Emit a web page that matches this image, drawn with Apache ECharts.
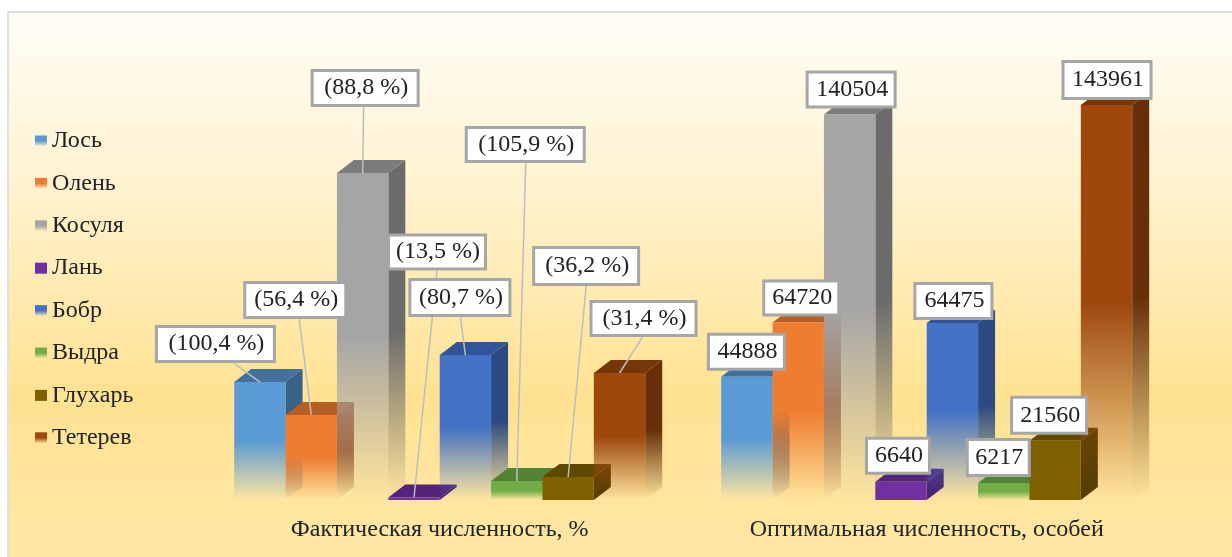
<!DOCTYPE html>
<html>
<head>
<meta charset="utf-8">
<style>
html, body { margin: 0; padding: 0; background: #fff; }
#chart { width: 1232px; height: 557px; }
</style>
<script src="https://cdn.jsdelivr.net/npm/echarts@6/dist/echarts.min.js"></script>
</head>
<body>
<div id="chart"></div>
<script>
const groups = ['Фактическая численность, %', 'Оптимальная численность, особей'];
const animals = ['Лось', 'Олень', 'Косуля', 'Лань', 'Бобр', 'Выдра', 'Глухарь', 'Тетерев'];
const actualValues = [43000, 31000, 119200, 900, 52850, 6900, 8400, 46300];
const optimalValues = [44888, 64720, 140504, 6640, 64475, 6217, 21560, 143961];
const actualLabels = ['(100,4 %)', '(56,4 %)', '(88,8 %)', '(13,5 %)', '(80,7 %)', '(105,9 %)', '(36,2 %)', '(31,4 %)'];
const optimalLabels = ['44888', '64720', '140504', '6640', '64475', '6217', '21560', '143961'];

const colors = ['#5B9BD5', '#ED7D31', '#A5A5A5', '#7030A0', '#4472C4', '#70AD47', '#7F6000', '#9E480E'];
const topColors = ['#41719C', '#B45F24', '#7B7B7B', '#54247A', '#325599', '#548235', '#5F4800', '#77360A'];
const sideColors = ['#376389', '#A4561F', '#6B6B6B', '#4A206B', '#2B4A82', '#4A7230', '#523E00', '#672F09'];
// lan and capercaillie are flat filled in the original, the others fade out
const solid = [false, false, false, true, false, false, true, false];

// callout box relative to top centre of the bar: dx, dy, width, height, leader start dx
const actualBoxes = [
  [-105, -57, 121, 38, -26],
  [-68, -134, 104, 38, -12],
  [-52, -104, 109, 38, 1],
  [-27, -264, 100, 37, 23],
  [-57, -77, 103, 39, -5],
  [-52, -355, 121, 37, 9],
  [-36, -231, 108, 40, 18],
  [-30, -73, 108, 37, 23]
];
const optimalBoxes = [
  [-40, -44, 79, 38, 0],
  [-36, -43, 78, 37, 0],
  [-44, -44, 91, 38, 0],
  [-36, -45, 66, 38, 0],
  [-39, -41, 80, 38, 0],
  [-38, -45, 65, 39, 0],
  [-45, -45, 78, 39, 0],
  [-45, -45, 91, 40, 0]
];

const DEPTH_X = 17;
const DEPTH_Y = 13;
const BAR_RATIO = 0.1055;
const FONT = '"Liberation Serif", serif';
const FONT_SIZE = 24;

const fade = (color, isSolid) => {
  if (isSolid) return color;
  return new echarts.graphic.LinearGradient(0, 0, 0, 1, [
    { offset: 0, color: color },
    { offset: 0.5, color: color },
    { offset: 1, color: echarts.color.modifyAlpha(color, 0) }
  ]);
};

const barLeft = (api, groupIndex, i) => {
  const band = api.size([1, 0])[0];
  const w = band * BAR_RATIO;
  const center = api.coord([groupIndex, 0])[0];
  return { w: w, x: center - w * 4 + i * w };
};

const renderBar = (i) => (params, api) => {
  const { w, x } = barLeft(api, api.value(0), i);
  const top = api.coord([api.value(0), api.value(1)])[1];
  const base = api.coord([api.value(0), 0])[1];
  const x2 = x + w;
  return {
    type: 'group',
    children: [
      {
        type: 'polygon',
        shape: { points: [[x2, top], [x2 + DEPTH_X, top - DEPTH_Y], [x2 + DEPTH_X, base - DEPTH_Y], [x2, base]] },
        style: { fill: fade(sideColors[i], solid[i]) }
      },
      {
        type: 'polygon',
        shape: { points: [[x, top], [x + DEPTH_X, top - DEPTH_Y], [x2 + DEPTH_X, top - DEPTH_Y], [x2, top]] },
        style: { fill: topColors[i] }
      },
      {
        type: 'rect',
        shape: { x: x, y: top, width: w, height: base - top },
        style: { fill: fade(colors[i], solid[i]) }
      }
    ]
  };
};

const barSeries = animals.map((name, i) => ({
  name: name,
  type: 'custom',
  z: 2,
  silent: true,
  renderItem: renderBar(i),
  itemStyle: { color: colors[i] },
  data: [[0, actualValues[i]], [1, optimalValues[i]]]
}));

const renderCallout = (params, api) => {
  const groupIndex = api.value(0);
  const i = api.value(2);
  const { w, x } = barLeft(api, groupIndex, i);
  const cx = x + w / 2;
  const top = api.coord([groupIndex, api.value(1)])[1];
  const box = (groupIndex === 0 ? actualBoxes : optimalBoxes)[i];
  const text = (groupIndex === 0 ? actualLabels : optimalLabels)[i];
  const children = [];
  if (groupIndex === 0) {
    children.push({
      type: 'line',
      z2: 0,
      shape: { x1: cx + box[4], y1: top + box[1] + box[3], x2: cx, y2: top },
      style: { stroke: '#BDBDBD', lineWidth: 1.5 }
    });
  }
  children.push({
    type: 'rect',
    z2: 1,
    shape: { x: cx + box[0] + 1.5, y: top + box[1] + 1.5, width: box[2] - 3, height: box[3] - 3 },
    style: { fill: '#fff', stroke: '#A6A6A6', lineWidth: 3 }
  });
  children.push({
    type: 'text',
    z2: 2,
    style: {
      x: cx + box[0] + box[2] / 2 + 1,
      y: top + box[1] + box[3] / 2,
      text: text,
      font: FONT_SIZE + 'px ' + FONT,
      fill: '#222',
      align: 'center',
      verticalAlign: 'middle'
    }
  });
  return { type: 'group', children: children };
};

const calloutRows = [];
animals.forEach((name, i) => {
  calloutRows.push([0, actualValues[i], i]);
  calloutRows.push([1, optimalValues[i], i]);
});

const option = {
  animation: false,
  backgroundColor: '#fff',
  graphic: [
    {
      type: 'rect',
      z: -1,
      shape: { x: 8, y: 12, width: 1240, height: 560 },
      style: {
        stroke: '#E0E0E0',
        lineWidth: 2,
        fill: new echarts.graphic.LinearGradient(0, 0, 0, 1, [
          { offset: 0, color: '#FFFDF6' },
          { offset: 0.3, color: '#FFF3D2' },
          { offset: 0.68, color: '#FFE292' },
          { offset: 1, color: '#FFE8A8' }
        ])
      }
    }
  ],
  grid: { left: 196.2, right: 61.8, top: 88.5, bottom: 57 },
  legend: {
    orient: 'vertical',
    left: 35,
    top: 129,
    padding: 0,
    selectedMode: false,
    itemWidth: 12,
    itemHeight: 11,
    itemGap: 18.4,
    textStyle: { fontFamily: FONT, fontSize: FONT_SIZE, color: '#222', lineHeight: 20 },
    data: animals.map((name, i) => ({
      name: name,
      icon: 'rect',
      itemStyle: { color: fade(colors[i], solid[i]) }
    }))
  },
  xAxis: {
    type: 'category',
    data: groups,
    axisLine: { show: false },
    axisTick: { show: false },
    axisLabel: { fontFamily: FONT, fontSize: FONT_SIZE, color: '#222', margin: 18 }
  },
  yAxis: { type: 'value', min: 0, max: 150000, show: false },
  series: barSeries.concat([
    {
      type: 'custom',
      z: 5,
      silent: true,
      renderItem: renderCallout,
      data: calloutRows
    }
  ])
};

const myChart = echarts.init(document.getElementById('chart'), null, { renderer: 'canvas' });
myChart.setOption(option);
</script>
</body>
</html>
